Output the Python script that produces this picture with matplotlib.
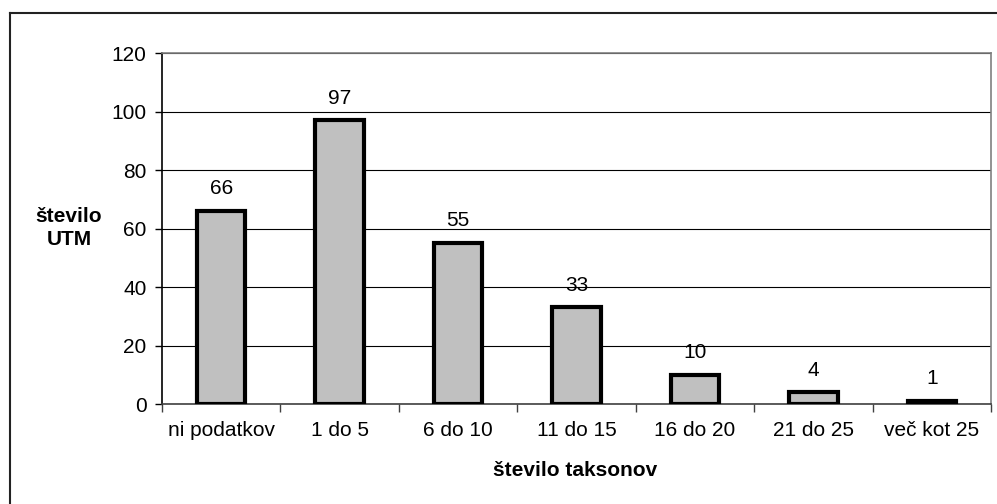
import matplotlib.pyplot as plt
from matplotlib.lines import Line2D

categories = ["ni podatkov", "1 do 5", "6 do 10", "11 do 15", "16 do 20", "21 do 25", "več kot 25"]
counts = [66, 97, 55, 33, 10, 4, 1]
y_ticks = [0, 20, 40, 60, 80, 100, 120]

plt.rcParams['font.family'] = ['Liberation Sans', 'DejaVu Sans']

W, H = 997, 504
fig = plt.figure(figsize=(W / 100, H / 100), dpi=100)
ax = fig.add_axes([162 / W, 1 - 404 / H, (991 - 162) / W, (404 - 53) / H])

x = list(range(len(categories)))
ax.bar(x, counts, width=0.41, color="#c0c0c0", edgecolor="black", linewidth=3, zorder=3)

for xi, v in zip(x, counts):
    ax.annotate(str(v), (xi, v), xytext=(0, 12), textcoords="offset points",
                ha="center", va="baseline", fontsize=15)

ax.set_xlim(-0.5, len(categories) - 0.5)
ax.set_ylim(0, 120)
ax.set_yticks(y_ticks)
ax.tick_params(axis="y", labelsize=15, length=5, width=1, direction="out", pad=6)
ax.yaxis.grid(True, color="black", linewidth=0.8, zorder=0)

# category boundaries carry the tick marks, centres carry the labels
ax.set_xticks([i - 0.5 for i in range(len(categories) + 1)])
ax.set_xticklabels([])
ax.set_xticks(x, minor=True)
ax.set_xticklabels(categories, minor=True)
ax.tick_params(axis="x", which="major", length=6, width=1, color="#404040")
ax.tick_params(axis="x", which="minor", length=0, labelsize=15, pad=12)

ax.spines["left"].set_color("black")
ax.spines["bottom"].set_color("#404040")
ax.spines["top"].set_color("#808080")
ax.spines["right"].set_color("#808080")
for s in ax.spines.values():
    s.set_linewidth(1.2)

fig.text(69 / W, 1 - 228 / H, "število\nUTM", ha="center", va="center",
         fontsize=15, fontweight="bold", linespacing=1.25)
fig.text(575 / W, 1 - 470 / H, "število taksonov", ha="center", va="center",
         fontsize=15, fontweight="bold")

# chart frame
fig.add_artist(Line2D([10 / W, 10 / W], [0, 1 - 13 / H], transform=fig.transFigure,
                      color="#222222", linewidth=1.5))
fig.add_artist(Line2D([10 / W, 1], [1 - 13 / H, 1 - 13 / H], transform=fig.transFigure,
                      color="#222222", linewidth=1.5))

fig.savefig("out.png", dpi=100)
